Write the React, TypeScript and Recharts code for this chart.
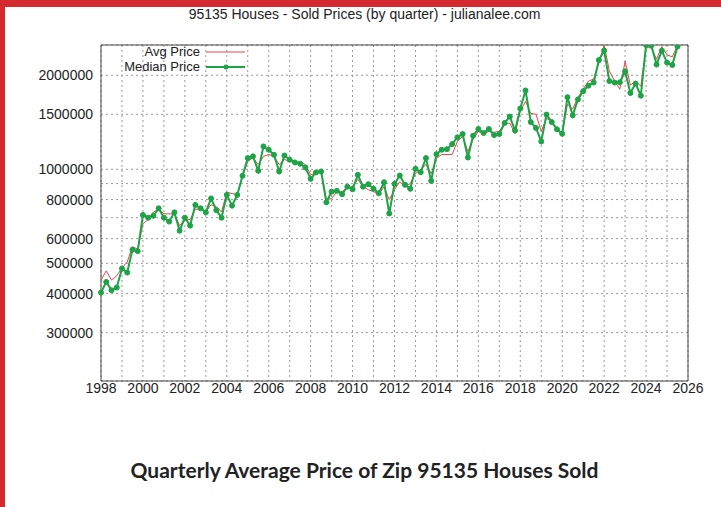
import React from 'react';
import { LineChart, Line, XAxis, YAxis, CartesianGrid, ReferenceArea } from 'recharts';

const startYear = 1998;

// quarterly prices, 1998 Q1 .. 2025 Q3
const avgPrice = [
  442000, 473000, 442000, 456000,
  483000, 505000, 565000, 555000,
  669000, 690000, 730000, 745000,
  720000, 720000, 720000, 660000,
  690000, 690000, 745000, 745000,
  730000, 770000, 760000, 730000,
  845000, 836000, 830000, 950000,
  1060000, 1090000, 1036000, 1100000,
  1115000, 1100000, 1036000, 1075000,
  1060000, 1052000, 1052000, 1036000,
  962000, 969000, 991000, 800000,
  806000, 848000, 848000, 874000,
  880000, 928000, 880000, 860000,
  848000, 830000, 880000, 800000,
  860000, 913000, 880000, 900000,
  969000, 998000, 1036000, 969000,
  1083000, 1115000, 1115000, 1115000,
  1228000, 1275000, 1140000, 1247000,
  1323000, 1293000, 1323000, 1313000,
  1323000, 1404000, 1404000, 1303000,
  1535000, 1650000, 1510000, 1500000,
  1323000, 1456000, 1424000, 1352000,
  1303000, 1615000, 1560000, 1700000,
  1805000, 1915000, 1945000, 2188000,
  2495000, 2065000, 1915000, 1805000,
  2220000, 1860000, 1915000, 1845000,
  2450000, 2450000, 2250000, 2470000,
  2325000, 2290000, 2500000,
];

const medianPrice = [
  403000, 436000, 410000, 418000,
  481000, 467000, 553000, 547000,
  714000, 700000, 710000, 750000,
  700000, 680000, 728000, 636000,
  700000, 660000, 769000, 750000,
  728000, 807000, 740000, 700000,
  828000, 765000, 828000, 953000,
  1086000, 1100000, 989000, 1184000,
  1155000, 1113000, 984000, 1107000,
  1073000, 1052000, 1042000, 1013000,
  932000, 977000, 984000, 784000,
  848000, 853000, 832000, 880000,
  863000, 960000, 880000, 896000,
  866000, 838000, 909000, 722000,
  898000, 955000, 892000, 866000,
  1004000, 979000, 1086000, 918000,
  1118000, 1155000, 1160000, 1204000,
  1266000, 1297000, 1091000, 1281000,
  1346000, 1307000, 1346000, 1287000,
  1297000, 1407000, 1475000, 1330000,
  1565000, 1788000, 1417000, 1356000,
  1228000, 1497000, 1417000, 1343000,
  1299000, 1702000, 1489000, 1674000,
  1779000, 1853000, 1895000, 2238000,
  2402000, 1916000, 1895000, 1899000,
  2059000, 1755000, 1881000, 1721000,
  2500000, 2490000, 2165000, 2396000,
  2196000, 2157000, 2473000,
];

const yearTicks = [1998, 1999, 2000, 2001, 2002, 2003, 2004, 2005, 2006, 2007, 2008, 2009, 2010, 2011,
  2012, 2013, 2014, 2015, 2016, 2017, 2018, 2019, 2020, 2021, 2022, 2023, 2024, 2025, 2026];
const priceTicks = [300000, 400000, 500000, 600000, 700000, 800000, 900000, 1000000, 1500000, 2000000];
const priceLabels = [300000, 400000, 500000, 600000, 800000, 1000000, 1500000, 2000000];

const data = medianPrice.map((m, i) => ({
  t: startYear + i / 4,
  avg: avgPrice[i],
  median: m,
}));

const gnuFont = '"Liberation Sans Narrow", "Liberation Sans", Arial, sans-serif';
const RED = '#e4474c';
const GREEN = '#1ca446';

const LegendBox = () => (
  <svg width={150} height={34} style={{ fontFamily: gnuFont, fontSize: 13, display: 'block' }}>
    <text x={95} y={12} textAnchor="end" fill="#222">Avg Price</text>
    <line x1={101} y1={8} x2={140} y2={8} stroke={RED} strokeWidth={1} />
    <text x={95} y={27} textAnchor="end" fill="#222">Median Price</text>
    <line x1={101} y1={23} x2={140} y2={23} stroke={GREEN} strokeWidth={2} />
    <circle cx={121} cy={23} r={2.5} fill={GREEN} />
  </svg>
);

export default function App() {
  return (
    <div style={{ position: 'fixed', left: 0, top: 0, width: 721, height: 507, background: '#fff', overflow: 'hidden' }}>
      <div style={{ position: 'absolute', left: 0, top: 0, width: 721, height: 7, background: '#d42a2f' }} />
      <div style={{ position: 'absolute', left: 0, top: 0, width: 5, height: 507, background: '#d42a2f' }} />
      <div style={{ position: 'absolute', left: 0, top: 6, width: 721, textAlign: 'center', paddingLeft: 8, boxSizing: 'border-box',
        fontFamily: gnuFont, fontSize: 14, color: '#222' }}>
        95135 Houses - Sold Prices (by quarter) - julianalee.com
      </div>
      <div style={{ position: 'absolute', left: 0, top: 0 }}>
        <LineChart width={721} height={400} data={data} margin={{ top: 45, right: 33, left: 0, bottom: 0 }}>
          <CartesianGrid stroke="#999" strokeDasharray="2 3" />
          <XAxis dataKey="t" type="number" domain={[1998, 2026]} ticks={yearTicks} interval={0}
            tickFormatter={(v: number) => (v % 2 === 0 ? String(v) : '')}
            axisLine={false} tickLine={false} tickSize={0} tickMargin={2} height={19}
            tick={{ fill: '#222', fontSize: 14, fontFamily: gnuFont }} />
          <YAxis type="number" scale="log" domain={[210000, 2500000]} allowDataOverflow ticks={priceTicks} interval={0}
            tickFormatter={(v: number) => (priceLabels.includes(v) ? String(v) : '')}
            axisLine={false} tickLine={false} width={101}
            tick={{ fill: '#222', fontSize: 14, fontFamily: gnuFont }} />
          <ReferenceArea x1={1998} x2={2026} y1={210000} y2={2500000} fill="none" stroke="#444" strokeWidth={1} ifOverflow="visible" />
          <Line dataKey="avg" name="Avg Price" stroke={RED} strokeWidth={1} dot={false} isAnimationActive={false} />
          <Line dataKey="median" name="Median Price" stroke={GREEN} strokeWidth={2}
            dot={{ r: 2.5, fill: GREEN, stroke: GREEN, strokeWidth: 1 }} isAnimationActive={false} />
        </LineChart>
      </div>
      <div style={{ position: 'absolute', left: 105, top: 44 }}>
        <LegendBox />
      </div>
      <div style={{ position: 'absolute', left: 0, top: 457, width: 721, textAlign: 'center', paddingLeft: 8, boxSizing: 'border-box',
        fontFamily: 'Lato, "Open Sans", sans-serif', fontWeight: 700, fontSize: 21, color: '#222' }}>
        Quarterly Average Price of Zip 95135 Houses Sold
      </div>
    </div>
  );
}
